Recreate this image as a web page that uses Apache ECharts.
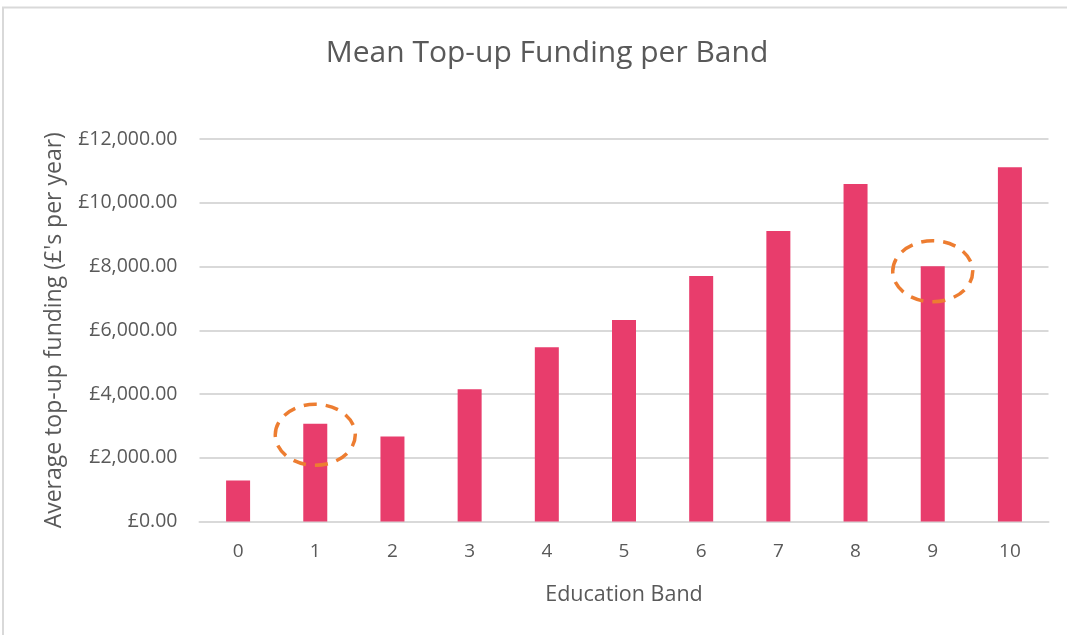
<!DOCTYPE html>
<html>
<head>
<meta charset="utf-8">
<script src="https://cdn.jsdelivr.net/npm/echarts@6/dist/echarts.min.js"></script>
<style>
html,body{margin:0;padding:0;background:#fff;}
#chart{width:1067px;height:635px;}
</style>
</head>
<body>
<div id="chart"></div>
<script>
const categories = ['0','1','2','3','4','5','6','7','8','9','10'];
const meanFunding = [1290, 3070, 2670, 4150, 5470, 6320, 7700, 9110, 10590, 8010, 11110];
const yTicks = [0, 2000, 4000, 6000, 8000, 10000, 12000];
const highlights = [ ['1', 2720], ['9', 7850] ];

const chart = echarts.init(document.getElementById('chart'));
const textColor = '#595959';
const font = 'Open Sans';

function fmt(v){
  return '£' + v.toLocaleString('en-GB', {minimumFractionDigits:2, maximumFractionDigits:2});
}

const frame = {
  type: 'rect',
  shape: { x: 3, y: 7.5, width: 1200, height: 700 },
  style: { fill: 'none', stroke: '#D9D9D9', lineWidth: 2 },
  silent: true
};

chart.setOption({
  animation: false,
  backgroundColor: '#ffffff',
  title: {
    text: 'Mean Top-up Funding per Band',
    left: 542, top: 33, textAlign: 'center',
    textStyle: { color: textColor, fontFamily: font, fontWeight: 'normal', fontSize: 30 }
  },
  grid: { left: 199.5, right: 18.5, top: 139, bottom: 113.5, containLabel: false },
  xAxis: {
    type: 'category',
    data: categories,
    name: 'Education Band',
    nameLocation: 'middle',
    nameGap: 62,
    nameTextStyle: { color: textColor, fontFamily: font, fontSize: 21.5 },
    axisLine: { lineStyle: { color: '#D9D9D9', width: 2 } },
    axisTick: { show: false },
    axisLabel: { color: textColor, fontFamily: font, fontSize: 19, margin: 21 }
  },
  yAxis: {
    type: 'value',
    min: yTicks[0], max: yTicks[yTicks.length-1], interval: 2000,
    name: "Average top-up funding (£'s per year)",
    nameLocation: 'middle',
    nameGap: 134,
    nameTextStyle: { color: textColor, fontFamily: font, fontSize: 23 },
    axisLine: { show: false },
    axisTick: { show: false },
    splitLine: { lineStyle: { color: '#D9D9D9', width: 2 } },
    axisLabel: { color: textColor, fontFamily: font, fontSize: 19.5, margin: 22, formatter: fmt }
  },
  series: [{
    type: 'bar',
    data: meanFunding,
    barWidth: 24,
    itemStyle: { color: '#E83D6C' }
  }],
  graphic: [frame]
});

const ellipses = highlights.map(h => {
  const p = chart.convertToPixel({xAxisIndex:0, yAxisIndex:0}, h);
  return {
    type: 'ellipse',
    shape: { cx: p[0], cy: p[1], rx: 40, ry: 30.5 },
    style: { fill: 'none', stroke: '#ED7D31', lineWidth: 3.5, lineDash: [13, 9] },
    z: 100,
    silent: true
  };
});
chart.setOption({ graphic: [frame].concat(ellipses) });
</script>
</body>
</html>
